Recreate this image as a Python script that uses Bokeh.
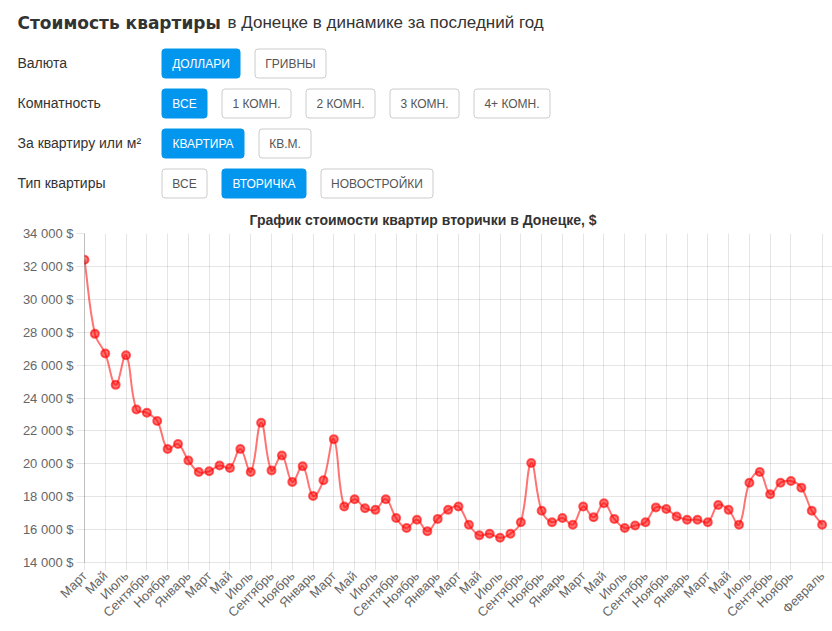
import math
from bokeh.plotting import figure
from bokeh.layouts import column
from bokeh.models import Range1d, FixedTicker, Label
from bokeh.embed import file_html
from bokeh.resources import INLINE

# ---------------- data ----------------
page_title_bold = "Стоимость квартиры"
page_title_rest = "в Донецке в динамике за последний год"
chart_title = "График стоимости квартир вторички в Донецке, $"

filter_labels = ["Валюта", "Комнатность", "За квартиру или м²", "Тип квартиры"]
filter_buttons = [
    ["ДОЛЛАРИ", "ГРИВНЫ"],
    ["ВСЕ", "1 КОМН.", "2 КОМН.", "3 КОМН.", "4+ КОМН."],
    ["КВАРТИРА", "КВ.М."],
    ["ВСЕ", "ВТОРИЧКА", "НОВОСТРОЙКИ"],
]
active_button = [0, 0, 0, 1]

months = [
    "Март", "Апрель", "Май", "Июнь", "Июль", "Август", "Сентябрь", "Октябрь", "Ноябрь", "Декабрь", "Январь", "Февраль",
    "Март", "Апрель", "Май", "Июнь", "Июль", "Август", "Сентябрь", "Октябрь", "Ноябрь", "Декабрь", "Январь", "Февраль",
    "Март", "Апрель", "Май", "Июнь", "Июль", "Август", "Сентябрь", "Октябрь", "Ноябрь", "Декабрь", "Январь", "Февраль",
    "Март", "Апрель", "Май", "Июнь", "Июль", "Август", "Сентябрь", "Октябрь", "Ноябрь", "Декабрь", "Январь", "Февраль",
    "Март", "Апрель", "Май", "Июнь", "Июль", "Август", "Сентябрь", "Октябрь", "Ноябрь", "Декабрь", "Январь", "Февраль",
    "Март", "Апрель", "Май", "Июнь", "Июль", "Август", "Сентябрь", "Октябрь", "Ноябрь", "Декабрь", "Январь", "Февраль",
]

prices = [
    32400, 27900, 26700, 24800, 26600, 23300, 23100, 22600, 20900, 21200,
    20200, 19500, 19550, 19900, 19750, 20900, 19500, 22500, 19600, 20500,
    18900, 19850, 18050, 19000, 21500, 17400, 17850, 17300, 17200, 17850,
    16700, 16100, 16600, 15900, 16650, 17200, 17400, 16300, 15650, 15750,
    15500, 15750, 16450, 20050, 17150, 16450, 16700, 16300, 17400, 16750,
    17600, 16650, 16100, 16250, 16450, 17350, 17250, 16800, 16600, 16600,
    16450, 17500, 17200, 16300, 18850, 19500, 18150, 18850, 18950, 18550,
    17150, 16300,
]

y_ticks = [14000, 16000, 18000, 20000, 22000, 24000, 26000, 28000, 30000, 32000, 34000]
y_tick_labels = ["14 000 $", "16 000 $", "18 000 $", "20 000 $", "22 000 $", "24 000 $",
                 "26 000 $", "28 000 $", "30 000 $", "32 000 $", "34 000 $"]

# ---------------- layout / style ----------------
FONT = "Liberation Sans"
BLUE = "#0396ef"
W = 832
HDR_H = 205
CH_H = 631 - HDR_H
LEFT = 84

# button geometry (layout only)
row_tops = [48, 88, 128, 168]
row_h = 29
btn_lefts = [[161, 254], [161, 221, 305, 389, 473], [161, 258], [161, 221, 320]]
btn_rights = [[240, 326], [207, 291, 375, 459, 550], [244, 311], [207, 306, 433]]

hdr = figure(width=W, height=HDR_H, x_range=Range1d(0, W), y_range=Range1d(HDR_H, 0),
             toolbar_location=None, output_backend="svg", min_border=0,
             x_axis_type=None, y_axis_type=None)
hdr.outline_line_color = None
hdr.grid.visible = False


def add_label(x, y, text, size, color="#333333", bold=False, align="left", font=FONT):
    hdr.add_layout(Label(x=x, y=y, text=text, text_font=font, text_font_size=size,
                         text_font_style="bold" if bold else "normal", text_color=color,
                         text_align=align, text_baseline="middle"))


# page title
add_label(17, 22, page_title_bold, "17px", bold=True, font="DejaVu Sans")
add_label(227, 22, page_title_rest, "17px")

# filter labels
for lab, t in zip(filter_labels, row_tops):
    add_label(17, t + row_h / 2, lab, "14px")

L, R, T, B, FC, LC = [], [], [], [], [], []
for r, names in enumerate(filter_buttons):
    for j, name in enumerate(names):
        l, rr = btn_lefts[r][j] + 0.5, btn_rights[r][j] - 0.5
        t, b = row_tops[r] + 0.5, row_tops[r] + row_h + 0.5
        act = (j == active_button[r])
        L.append(l); R.append(rr); T.append(t); B.append(b)
        FC.append(BLUE if act else "#ffffff")
        LC.append(BLUE if act else "#cccccc")

qkw = dict(left=L, right=R, top=T, bottom=B, fill_color=FC, line_color=LC, line_width=1)
try:
    hdr.quad(border_radius=3, **qkw)
except Exception:
    hdr.quad(**qkw)

for r, names in enumerate(filter_buttons):
    for j, name in enumerate(names):
        act = (j == active_button[r])
        add_label((btn_lefts[r][j] + btn_rights[r][j]) / 2, row_tops[r] + row_h / 2 + 0.5, name,
                  "12px", color="#ffffff" if act else "#555555", align="center")

# ---------------- chart ----------------
n = len(prices)
xs = list(range(n))
x_tick_idx = list(range(0, n - 2, 2)) + [n - 1]

p = figure(width=W, height=CH_H, x_range=Range1d(0, 72), y_range=Range1d(14000, 34000),
           toolbar_location=None, output_backend="svg",
           min_border_left=LEFT, min_border_right=0, min_border_top=28, min_border_bottom=69)
p.outline_line_color = None

p.title.text = chart_title
p.title.align = "left"
p.title.vertical_align = "middle"
p.title.offset = 165
p.title.standoff = 10
p.title.text_font = FONT
p.title.text_font_size = "14px"
p.title.text_font_style = "bold"
p.title.text_color = "#333333"

p.yaxis.ticker = FixedTicker(ticks=y_ticks)
p.yaxis.major_label_overrides = {v: s for v, s in zip(y_ticks, y_tick_labels)}
p.xaxis.ticker = FixedTicker(ticks=x_tick_idx)
p.xaxis.major_label_overrides = {i: months[i] for i in x_tick_idx}
p.xaxis.major_label_orientation = math.pi / 4
p.xgrid.ticker = FixedTicker(ticks=x_tick_idx)
p.ygrid.ticker = FixedTicker(ticks=y_ticks)

for ax in (p.xaxis, p.yaxis):
    ax.major_label_text_font = FONT
    ax.major_label_text_font_size = "13px"
    ax.major_label_text_color = "#666666"
    ax.major_tick_out = 8
    ax.major_tick_in = 0
    ax.major_tick_line_color = "black"
    ax.major_tick_line_alpha = 0.1
    ax.minor_tick_line_color = None
    ax.major_label_standoff = 3
p.yaxis.axis_line_color = "black"
p.yaxis.axis_line_alpha = 0.25
p.xaxis.axis_line_color = "black"
p.xaxis.axis_line_alpha = 0.1
for g in (p.xgrid, p.ygrid):
    g.grid_line_color = "black"
    g.grid_line_alpha = 0.1

# Chart.js style spline (tension 0.4) computed in approx pixel space
sx = (821.5 - 84) / 71.0
sy = 329.3 / 20000.0
pts = [(x * sx, v * sy) for x, v in zip(xs, prices)]
tension = 0.4
prev_c, next_c = [], []
for i in range(n):
    cur = pts[i]
    pr = pts[i - 1] if i > 0 else cur
    nx = pts[i + 1] if i < n - 1 else cur
    d01 = math.hypot(cur[0] - pr[0], cur[1] - pr[1])
    d12 = math.hypot(nx[0] - cur[0], nx[1] - cur[1])
    tot = d01 + d12
    s01 = d01 / tot if tot else 0
    s12 = d12 / tot if tot else 0
    fa, fb = tension * s01, tension * s12
    prev_c.append(((cur[0] - fa * (nx[0] - pr[0])) / sx, (cur[1] - fa * (nx[1] - pr[1])) / sy))
    next_c.append(((cur[0] + fb * (nx[0] - pr[0])) / sx, (cur[1] + fb * (nx[1] - pr[1])) / sy))

p.bezier(x0=xs[:-1], y0=prices[:-1], x1=xs[1:], y1=prices[1:],
         cx0=[c[0] for c in next_c[:-1]], cy0=[c[1] for c in next_c[:-1]],
         cx1=[c[0] for c in prev_c[1:]], cy1=[c[1] for c in prev_c[1:]],
         line_color="red", line_alpha=0.55, line_width=2)
p.scatter(xs, prices, size=8, fill_color="red", fill_alpha=0.55,
          line_color="red", line_alpha=0.6, line_width=2)

# nest the header in its own column so its frame is not aligned with the chart's frame
layout = column(column(hdr), p)
open("out.html", "w").write(file_html(layout, INLINE))
